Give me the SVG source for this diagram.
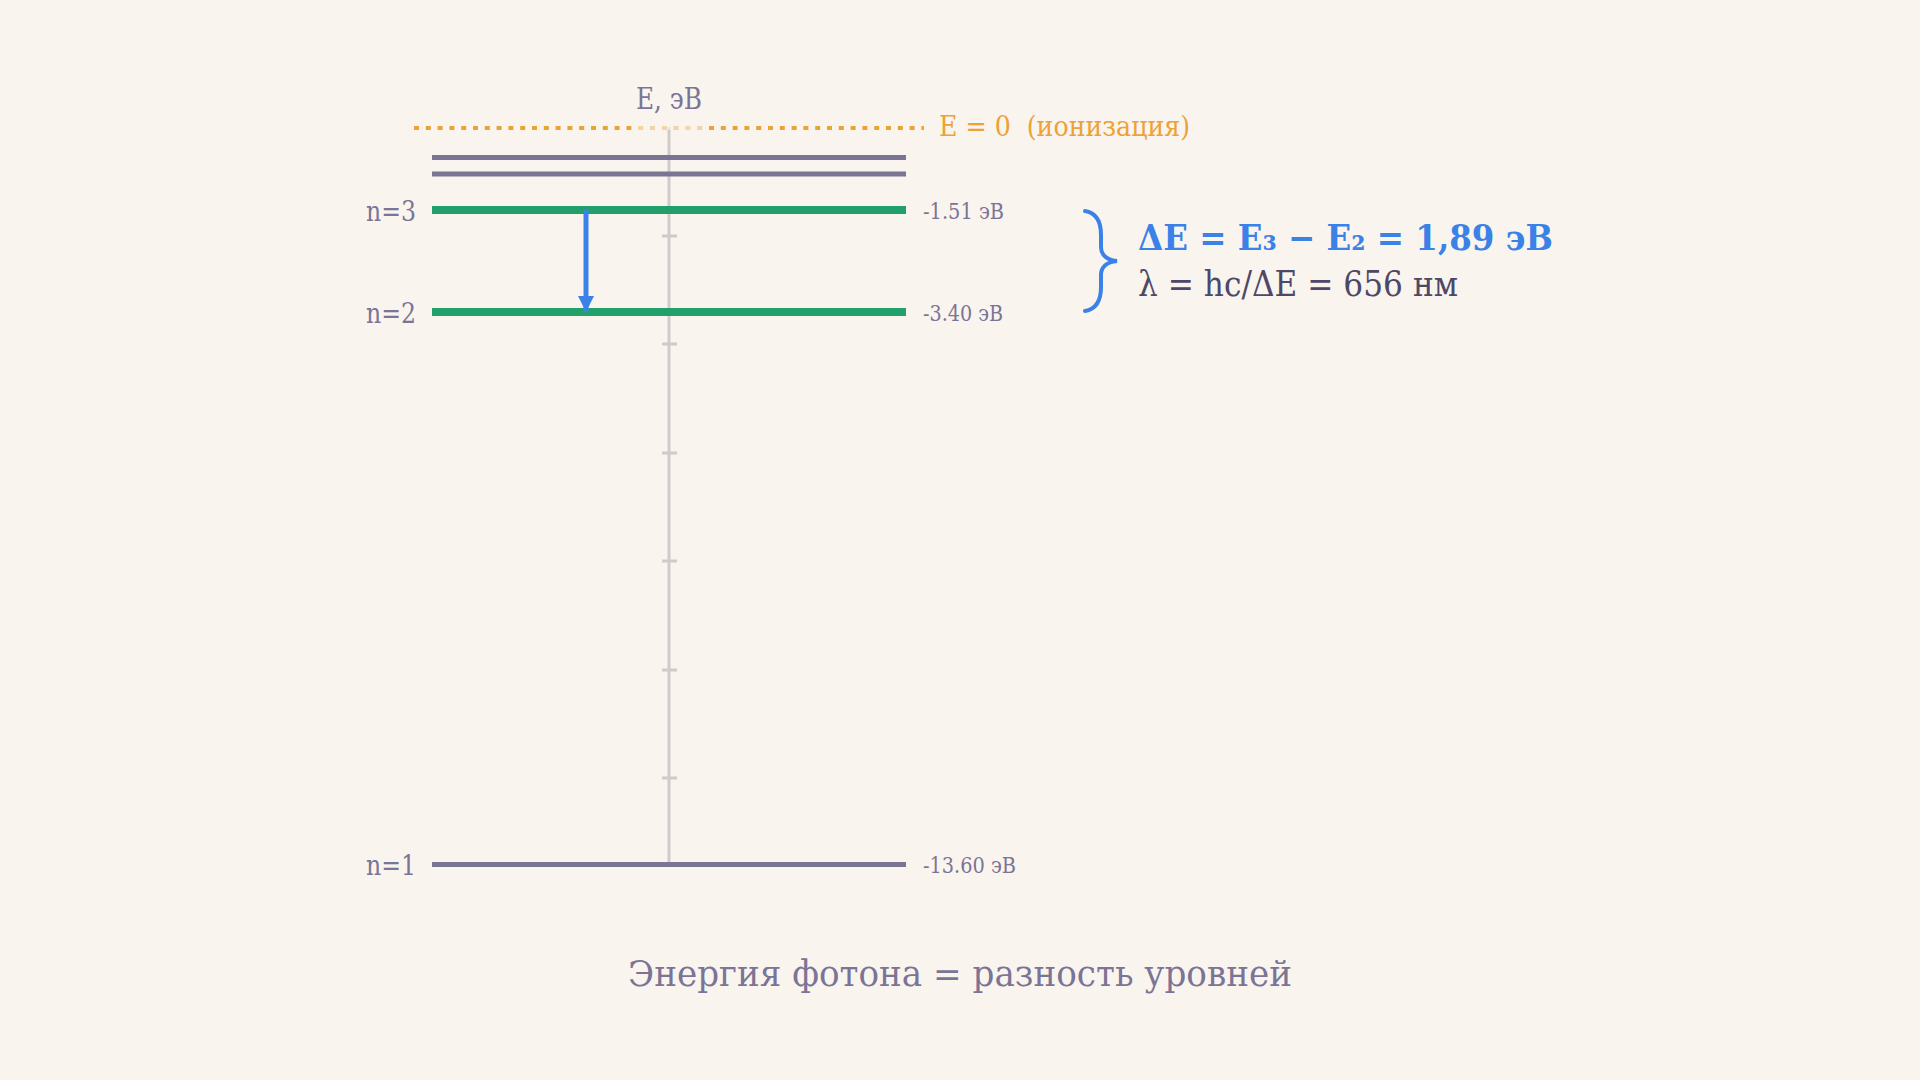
<svg xmlns="http://www.w3.org/2000/svg" width="1920" height="1080" viewBox="0 0 1920 1080">
  <style>
    .lbl { font-family: "DejaVu Serif", "Liberation Serif", serif; fill: #7a7596; }
    .n { font-size: 27px; text-anchor: end; }
    .ev { font-size: 23px; }
    .lvl-g { stroke: #22a06b; stroke-width: 8; }
    .lvl-p { stroke: #7a7594; stroke-width: 5; }
    .tick { stroke: #cfcbcb; stroke-width: 3; }
  </style>
  <defs>
    <marker id="ah" viewBox="0 0 16 16" refX="16" refY="8" markerWidth="16" markerHeight="16" markerUnits="userSpaceOnUse" orient="auto">
      <path d="M0,0 L16,8 L0,16 Z" fill="#3a82e8"/>
    </marker>
  </defs>
  <rect width="1920" height="1080" fill="#faf4ee"/>

  <g id="axis">
    <line x1="669" y1="127" x2="669" y2="864" stroke="#cfcbcb" stroke-width="3"/>
    <line class="tick" x1="662" y1="236" x2="677" y2="236"/>
    <line class="tick" x1="662" y1="344" x2="677" y2="344"/>
    <line class="tick" x1="662" y1="453" x2="677" y2="453"/>
    <line class="tick" x1="662" y1="561" x2="677" y2="561"/>
    <line class="tick" x1="662" y1="670" x2="677" y2="670"/>
    <line class="tick" x1="662" y1="778" x2="677" y2="778"/>
  </g>

  <g id="ionization">
    <line x1="414" y1="128" x2="924" y2="128" stroke="#eba236" stroke-width="4" stroke-dasharray="5 6.8"/>
    <text x="939" y="136" font-family="DejaVu Serif, Liberation Serif, serif" font-size="28" fill="#eba236" textLength="251" lengthAdjust="spacingAndGlyphs" xml:space="preserve">E = 0  (ионизация)</text>
  </g>

  <g id="axis-label">
    <rect x="632" y="72" width="74" height="58" rx="6" fill="#faf4ee" opacity="0.6"/>
    <text class="lbl" x="669" y="109" font-size="29" text-anchor="middle" textLength="66" lengthAdjust="spacingAndGlyphs">E, эВ</text>
  </g>

  <g id="level-high">
    <line class="lvl-p" x1="432" y1="157.5" x2="906" y2="157.5"/>
    <line class="lvl-p" x1="432" y1="174" x2="906" y2="174"/>
  </g>

  <g id="level-n3">
    <line class="lvl-g" x1="432" y1="210" x2="906" y2="210"/>
    <text class="lbl n" x="416" y="220.5" textLength="50" lengthAdjust="spacingAndGlyphs">n=3</text>
    <text class="lbl ev" x="923" y="218.5" textLength="81" lengthAdjust="spacingAndGlyphs">-1.51 эВ</text>
  </g>

  <g id="level-n2">
    <line class="lvl-g" x1="432" y1="312" x2="906" y2="312"/>
    <text class="lbl n" x="416" y="323" textLength="50" lengthAdjust="spacingAndGlyphs">n=2</text>
    <text class="lbl ev" x="923" y="320.5" textLength="80" lengthAdjust="spacingAndGlyphs">-3.40 эВ</text>
  </g>

  <g id="level-n1">
    <line class="lvl-p" x1="432" y1="864.5" x2="906" y2="864.5"/>
    <text class="lbl n" x="416" y="875" textLength="50" lengthAdjust="spacingAndGlyphs">n=1</text>
    <text class="lbl ev" x="923" y="872.5" textLength="93" lengthAdjust="spacingAndGlyphs">-13.60 эВ</text>
  </g>

  <g id="connectors">
    <line x1="586" y1="210" x2="586" y2="312" stroke="#3a82e8" stroke-width="5" marker-end="url(#ah)"/>
  </g>

  <g id="formula">
    <path d="M1085,211 C1097,213 1101,222 1101,235 L1101,247 C1101,255 1107,260 1117,261 C1107,262 1101,267 1101,275 L1101,287 C1101,300 1097,309 1085,311" fill="none" stroke="#3a82e8" stroke-width="4" stroke-linecap="round"/>
    <text x="1138" y="250" font-family="DejaVu Serif, Liberation Serif, serif" font-size="36" font-weight="bold" fill="#3a82e8" textLength="415" lengthAdjust="spacingAndGlyphs">ΔE = E₃ − E₂ = 1,89 эВ</text>
    <text x="1138" y="296" font-family="DejaVu Serif, Liberation Serif, serif" font-size="36" fill="#4d4868" textLength="320" lengthAdjust="spacingAndGlyphs">λ = hc/ΔE = 656 нм</text>
  </g>

  <g id="caption">
    <text class="lbl" x="960" y="986" font-size="35" text-anchor="middle" textLength="664" lengthAdjust="spacingAndGlyphs">Энергия фотона = разность уровней</text>
  </g>
</svg>
